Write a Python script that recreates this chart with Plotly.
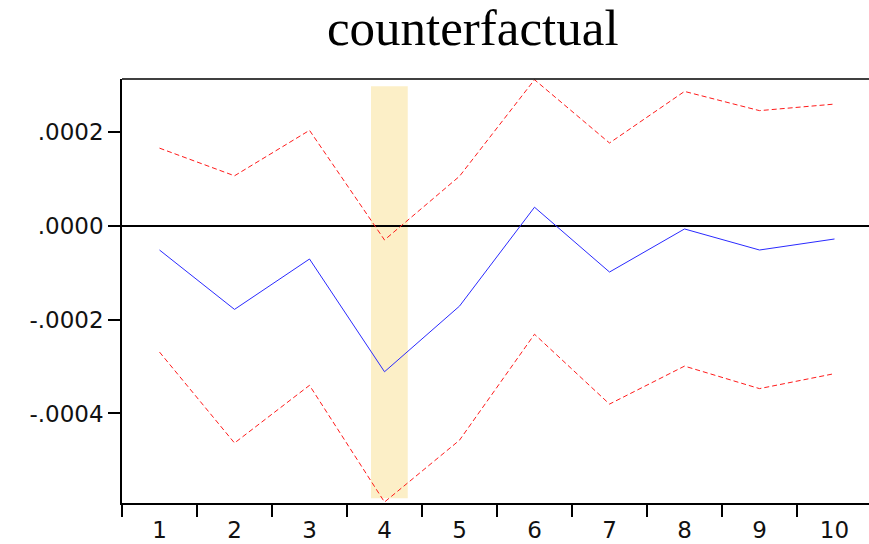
import plotly.graph_objects as go

periods = [1, 2, 3, 4, 5, 6, 7, 8, 9, 10]
response = [-0.0000513, -0.000178, -0.0000705, -0.000311, -0.000171,
            0.000040, -0.0000983, -0.0000064, -0.0000513, -0.0000278]
upper = [0.000166, 0.000107, 0.000204, -0.0000299, 0.000106,
         0.000312, 0.000177, 0.000287, 0.000246, 0.000260]
lower = [-0.000269, -0.000463, -0.000340, -0.000589, -0.000457,
         -0.000231, -0.000380, -0.000299, -0.000347, -0.000315]
ytick_vals = [-0.0004, -0.0002, 0.0, 0.0002]
ytick_text = ["-.0004", "-.0002", ".0000", ".0002"]
xtick_text = [str(p) for p in periods]
boundaries = [p - 0.5 for p in periods]
highlight_x = [3.82, 4.31]
highlight_y = [-0.000581, 0.000298]

fig = go.Figure()
fig.add_shape(type="rect", xref="x", yref="y",
              x0=highlight_x[0], x1=highlight_x[1],
              y0=highlight_y[0], y1=highlight_y[1],
              fillcolor="#FCEFC7", line=dict(width=0), layer="below")
fig.add_trace(go.Scatter(x=periods, y=upper, mode="lines",
                         line=dict(color="#FF1A1A", width=1, dash="5px,3px"),
                         showlegend=False))
fig.add_trace(go.Scatter(x=periods, y=lower, mode="lines",
                         line=dict(color="#FF1A1A", width=1, dash="5px,3px"),
                         showlegend=False))
fig.add_trace(go.Scatter(x=periods, y=response, mode="lines",
                         line=dict(color="#2A2AFF", width=1),
                         showlegend=False))
fig.add_shape(type="line", xref="paper", yref="paper", x0=0, x1=1, y0=1, y1=1,
              line=dict(color="black", width=1.5))

tick_font = dict(family="DejaVu Sans", size=23, color="#111")

fig.update_layout(
    width=869, height=544,
    margin=dict(l=122, r=0, t=79, b=41),
    plot_bgcolor="white", paper_bgcolor="white",
    title=dict(text="counterfactual", x=0.544, xanchor="center",
               y=1 - 27 / 544, yanchor="middle", yref="container",
               font=dict(family="Liberation Serif", size=51, color="black")),
    xaxis=dict(range=[0.5, 10.46], tickvals=periods, ticktext=xtick_text,
               ticks="outside", ticklen=6, tickcolor="rgba(0,0,0,0)",
               showgrid=False, zeroline=False,
               showline=True, linecolor="black", linewidth=1.5,
               tickfont=tick_font,
               minor=dict(tickvals=boundaries, ticks="outside", ticklen=12,
                          tickcolor="black", tickwidth=1.5, showgrid=False)),
    yaxis=dict(range=[-0.000591, 0.0003135], tickvals=ytick_vals,
               ticktext=ytick_text, ticks="outside", ticklen=12,
               tickcolor="black", tickwidth=1.5, showgrid=False,
               zeroline=True, zerolinecolor="black", zerolinewidth=1.5,
               showline=True, linecolor="black", linewidth=1.5,
               tickfont=tick_font),
)

fig.write_html("out.html")
